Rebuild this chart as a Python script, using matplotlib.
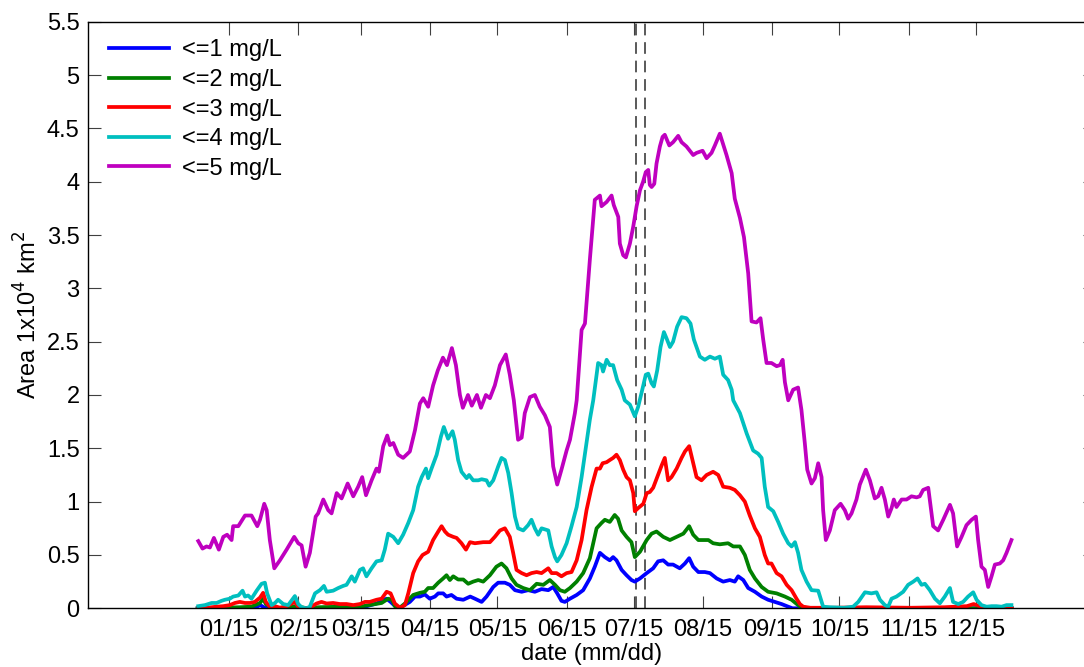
import matplotlib
matplotlib.use("Agg")
import matplotlib.pyplot as plt

# ---------------- data (day of year, area in 1e4 km^2) ----------------
days_5 = [1.3, 3.2, 5, 6.5, 8.3, 10.5, 12.5, 14.2, 16.2, 16.9, 19.2, 22.2, 25.1, 27.7, 28.9, 30.8, 31.9,
          33.3, 35.3, 37.8, 40.8, 44.2, 46, 47.5, 49.3, 51.2, 53.8, 54.9, 57.2, 59.4, 60.9, 63.2, 65.4,
          68.1, 70.6, 72.8, 74.6, 76.3, 78.8, 81, 82.1, 84, 85.8, 87, 88.5, 90.7, 92.9, 95.9, 98.2, 100.4,
          101.9, 104.1, 106.3, 108.4, 110.7, 112.5, 114.7, 116.5, 118.3, 119.6, 121.9, 123.6, 125.9,
          127.7, 129.9, 131.7, 133.9, 136.2, 138.8, 140.6, 142.4, 144.3, 145.9, 147.3, 149.6, 151.8, 154,
          156.3, 158.5, 160, 161.8, 163.7, 166, 167.5, 169.7, 170.5, 172.7, 174.2, 176.4, 178.6, 180.9,
          181.6, 183.9, 186.1, 187.1, 189.1, 189.8, 191.3, 192.5, 194.3, 195.8, 197.3, 198.8, 200.2,
          201.4, 202.5, 203.2, 204, 205.2, 206.2, 207.7, 208.9, 209.9, 211.9, 213.6, 215.9, 217.4, 219.6,
          222.6, 224.1, 226.8, 228.6, 230.8, 232.3, 234.5, 235.7, 237.5, 239.8, 241.2, 243.5, 245.3,
          247.2, 248.7, 250.9, 252.7, 253.9, 255.4, 257.6, 259.9, 261.4, 262.6, 263.6, 265.1, 267.3,
          269.5, 271, 272.5, 273.6, 275.5, 277, 278.5, 280, 280.7, 281.9, 283.7, 285.9, 288.5, 290.4,
          291.9, 293.4, 295.6, 297.1, 299.8, 301.6, 303.8, 305.3, 306.8, 308.3, 309.8, 311.3, 312.3,
          313.5, 315.8, 318, 320.2, 322.5, 323.9, 325.4, 327.7, 329.9, 332.1, 334.4, 337.4, 338.8, 340.6,
          342.6, 344.8, 347.1, 349, 350, 351.5, 353, 354.5, 356, 357.5, 359.7, 361.2, 362.7, 364.9]
area_5 = [0.63, 0.56, 0.58, 0.57, 0.66, 0.55, 0.67, 0.69, 0.64, 0.77, 0.77, 0.87, 0.87, 0.77, 0.83, 0.98, 0.92,
          0.64, 0.375, 0.45, 0.55, 0.67, 0.61, 0.59, 0.39, 0.52, 0.86, 0.89, 1.02, 0.92, 0.89, 1.08, 1.03,
          1.17, 1.05, 1.14, 1.23, 1.06, 1.20, 1.31, 1.28, 1.52, 1.62, 1.53, 1.55, 1.44, 1.41, 1.47, 1.67, 1.92,
          1.97, 1.89, 2.09, 2.23, 2.35, 2.28, 2.44, 2.28, 2.0, 1.88, 2.0, 1.9, 2.0,
          1.88, 2.0, 1.97, 2.09, 2.28, 2.38, 2.19, 1.95, 1.58, 1.60, 1.83, 1.98, 2.0, 1.89,
          1.81, 1.70, 1.33, 1.16, 1.30, 1.48, 1.58, 1.83, 1.95, 2.61, 2.67, 3.27, 3.83, 3.87,
          3.77, 3.81, 3.87, 3.78, 3.67, 3.42, 3.31, 3.29, 3.42, 3.58, 3.77, 3.92, 4.0,
          4.09, 4.11, 3.97, 3.95, 3.98, 4.17, 4.33, 4.42, 4.44, 4.34, 4.37, 4.43, 4.37, 4.33,
          4.25, 4.27, 4.29, 4.22, 4.27, 4.34, 4.45, 4.37, 4.25, 4.08, 3.84, 3.66, 3.48,
          3.14, 2.69, 2.68, 2.72, 2.52, 2.30, 2.30, 2.27, 2.28, 2.33, 2.12, 1.95, 2.05,
          2.07, 1.86, 1.55, 1.30, 1.17, 1.22, 1.36, 1.23, 0.92, 0.64, 0.73, 0.92, 0.98, 0.92,
          0.84, 0.89, 1.02, 1.16, 1.30, 1.20, 1.03, 1.05, 1.13, 1.02, 0.86, 0.94, 1.02,
          0.95, 1.02, 1.02, 1.05, 1.04, 1.05, 1.11, 1.13, 0.77, 0.73, 0.83, 0.97, 0.89, 0.58,
          0.67, 0.78, 0.83, 0.86, 0.64, 0.39, 0.36, 0.20, 0.30, 0.41, 0.42, 0.45, 0.52, 0.64]

days_4 = [1.3, 4.3, 7.3, 9.5, 11.7, 13.2, 15.4, 16.9, 19.2, 21.1, 22.2, 23.6, 25.1, 27.4, 29.6, 31.1, 32.1,
          34.1, 35.6, 37, 39.3, 41.5, 44.5, 46, 47.5, 49.7, 51.2, 53.5, 55.7, 57.5, 58.7, 61.6, 63.9, 66.1,
          67.6, 69.9, 71.3, 73.6, 75, 76.5, 78.8, 81, 83.3, 84.7, 86.2, 88.5, 90.7, 92.9, 95.2, 97.4, 99.6,
          101.2, 103.1, 104.1, 105.6, 107.9, 109.8, 111.1, 113, 115, 116, 117.5, 119, 121.3, 122.4, 124.2,
          126.5, 128, 130.2, 131.4, 133.2, 135.4, 136.9, 138.4, 139.9, 141.4, 142.9, 144.3, 146.6, 148.8,
          150.3, 151.8, 153.3, 154.8, 157.8, 159.3, 160.8, 161.8, 163.7, 166, 168.2, 170.5, 172.7, 174.9,
          176.4, 177.9, 180.1, 181.6, 182.3, 183.9, 185.3, 186.8, 188.6, 190.6, 192, 194.3, 196.5, 198,
          199.5, 201.4, 202.5, 204, 205, 206.5, 208, 209.5, 210.7, 212.2, 213.6, 215.4, 217.4, 219.6,
          221.4, 222.9, 224.1, 225.6, 227.8, 230.1, 232.3, 234.5, 236, 238.2, 239.8, 240.5, 243.5, 246.5,
          249.4, 251.6, 253.2, 254.6, 256.1, 258.4, 260.6, 262.8, 265.1, 266.6, 268.1, 269.5, 271, 273.3,
          275.5, 278.5, 280.7, 283.7, 290, 294.1, 296.4, 299.4, 302.3, 304.6, 306.1, 308.3, 309.8, 311.3,
          313.5, 316.5, 318.7, 321, 322.9, 324.7, 326.2, 328.4, 330.7, 332.9, 335.1, 337.4, 338.8, 341.1,
          343.3, 345.5, 347.8, 349.3, 351.5, 353.8, 356, 358.2, 360.5, 362.7, 364.9]
area_4 = [0.02, 0.03, 0.05, 0.05, 0.07, 0.08, 0.09, 0.11, 0.12, 0.165, 0.11, 0.12, 0.09, 0.165, 0.23, 0.24, 0.14,
          0.03, 0.05, 0.08, 0.04, 0.03, 0.115, 0.04, 0.01, 0.0, 0.015, 0.14, 0.17, 0.21, 0.155, 0.165, 0.19, 0.21,
          0.22, 0.30, 0.25, 0.36, 0.375, 0.30, 0.375, 0.44, 0.45, 0.55, 0.70, 0.67, 0.61, 0.69, 0.80, 0.92, 1.14,
          1.23, 1.31, 1.22, 1.31, 1.44, 1.61, 1.70, 1.59, 1.66, 1.58, 1.39, 1.28, 1.22, 1.25, 1.20,
          1.20, 1.21, 1.20, 1.15, 1.20, 1.33, 1.41, 1.39, 1.27, 1.08, 0.86, 0.75, 0.73, 0.78,
          0.83, 0.75, 0.69, 0.75, 0.73, 0.58, 0.48, 0.44, 0.50, 0.61, 0.77, 0.95, 1.23, 1.55,
          1.77, 1.95, 2.30, 2.28, 2.22, 2.33, 2.28, 2.28, 2.14, 2.05, 1.95, 1.91, 1.80, 1.89,
          2.02, 2.19, 2.20, 2.11, 2.08, 2.23, 2.45, 2.59, 2.53, 2.45, 2.50, 2.64, 2.73, 2.72,
          2.67, 2.52, 2.45, 2.36, 2.33, 2.36, 2.34, 2.36, 2.19, 2.14, 2.05, 1.95, 1.83, 1.64,
          1.48, 1.45, 1.41, 1.14, 0.95, 0.91, 0.81, 0.70, 0.61, 0.58, 0.62, 0.52, 0.36, 0.25,
          0.17, 0.165, 0.015, 0.01, 0.005, 0.015, 0.06, 0.15, 0.14, 0.15, 0.08, 0.03, 0.015, 0.09,
          0.11, 0.155, 0.22, 0.25, 0.28, 0.22, 0.23, 0.17, 0.09, 0.047, 0.11, 0.19, 0.06, 0.04,
          0.06, 0.11, 0.15, 0.08, 0.03, 0.015, 0.02, 0.02, 0.015, 0.03, 0.03]

days_3 = [1.3, 5, 9.5, 12.5, 15.4, 17.7, 19.9, 22.2, 24.4, 26.6, 28.9, 30.3, 31.5, 33.3, 35.6, 37.8, 40.8,
          44.5, 46, 48.2, 51.2, 54.2, 56.4, 58.7, 61.6, 64.6, 67.6, 70.6, 73.6, 75.8, 78, 81, 83.3, 85.5,
          87.3, 89.2, 91.5, 93.7, 95.2, 97.4, 99.6, 101.6, 104.1, 106.3, 108.6, 110.1, 111.6, 113, 115.3,
          116.8, 119, 121, 122.8, 125, 128.7, 131.7, 133.9, 136.2, 138.4, 140.6, 142.1, 143.6, 145.9,
          148.1, 150.3, 152.6, 154.8, 157.8, 159.3, 161.5, 163.7, 166, 168.2, 170.5, 172.7, 174.9, 177.2,
          179.4, 180.9, 182.1, 183.9, 185.3, 186.8, 188.3, 189.8, 191.3, 192.8, 194.3, 195.8, 196.5, 198,
          200.3, 201.8, 203.2, 204.7, 206.9, 208.5, 209.9, 211.4, 212.9, 215.2, 217.4, 218.9, 220.8,
          222.3, 224.1, 226.3, 228.6, 231.5, 233.8, 236, 239, 241.2, 243.5, 245.7, 247.9, 250.2, 252.4,
          254.6, 256.1, 257.6, 259.9, 262.1, 264.4, 266.6, 268.8, 270.3, 271.8, 275, 285, 300, 320, 335,
          345, 348, 352, 358, 365]
area_3 = [0.0, 0.005, 0.015, 0.02, 0.03, 0.05, 0.06, 0.05, 0.05, 0.06, 0.10, 0.145, 0.06, 0.015, 0.02, 0.005, 0.02,
          0.06, 0.015, 0.0, 0.005, 0.045, 0.06, 0.045, 0.05, 0.04, 0.04, 0.03, 0.04, 0.06, 0.06, 0.08, 0.09, 0.155,
          0.14, 0.045, 0.005, 0.03, 0.14, 0.33, 0.44, 0.50, 0.53, 0.64, 0.72, 0.77, 0.72, 0.69, 0.67,
          0.66, 0.61, 0.55, 0.62, 0.61, 0.62, 0.62, 0.67, 0.73, 0.75, 0.67, 0.52, 0.36, 0.33,
          0.31, 0.33, 0.34, 0.33, 0.375, 0.33, 0.33, 0.30, 0.33, 0.34, 0.45, 0.64, 0.92, 1.14,
          1.31, 1.31, 1.36, 1.37, 1.39, 1.41, 1.44, 1.39, 1.30, 1.23, 1.20, 1.08, 0.91, 0.94,
          0.98, 1.08, 1.09, 1.13, 1.25, 1.34, 1.41, 1.20, 1.23, 1.31, 1.41, 1.47, 1.52,
          1.39, 1.23, 1.20, 1.25, 1.28, 1.25, 1.14, 1.13, 1.11, 1.06, 1.00, 0.87, 0.75, 0.67,
          0.50, 0.42, 0.42, 0.33, 0.30, 0.22, 0.17, 0.09, 0.04, 0.015, 0.005, 0.005, 0.01, 0.005, 0.01,
          0.02, 0.04, 0.01, 0.005, 0.0]

days_2 = [1, 10, 20, 25, 28.9, 30.3, 31.5, 34, 40, 45, 50, 55, 65, 75, 83.3, 86.2, 87.9, 89.2, 91.1, 94,
          97.4, 100.4, 102.6, 104.1, 106.3, 108.6, 110.8, 112.3, 113.8, 115.3, 117.5, 119.8, 122, 124.2,
          126.5, 128.7, 131.7, 134.6, 136.9, 139.1, 141.4, 143.6, 146.6, 149.6, 152.6, 155.6, 158.5, 160.8,
          163, 165.2, 167.5, 170.5, 173.4, 176.4, 179.4, 181.6, 183.1, 185.3, 187.5, 189, 190.6, 192.8,
          195, 196.5, 198.8, 201.8, 204, 206.2, 209.2, 212.2, 215.2, 218.2, 220.8, 222.6, 224.9, 227.1,
          229.4, 231.5, 234.5, 238.2, 240.5, 243.5, 245.7, 247.9, 250.2, 253.2, 256.1, 259.9, 263.6,
          266.6, 269.5, 271, 275, 365]
area_2 = [0.0, 0.005, 0.01, 0.015, 0.05, 0.09, 0.04, 0.005, 0.005, 0.02, 0.0, 0.01, 0.015, 0.02, 0.05, 0.09, 0.08,
          0.02, 0.0, 0.05, 0.125, 0.145, 0.155, 0.19, 0.19, 0.24, 0.28, 0.31, 0.265, 0.30, 0.27, 0.27, 0.23, 0.25,
          0.265, 0.25, 0.31, 0.39, 0.42, 0.375, 0.28, 0.22, 0.19, 0.17, 0.23, 0.22, 0.265, 0.22,
          0.17, 0.155, 0.19, 0.25, 0.33, 0.47, 0.75, 0.80, 0.83, 0.81, 0.875, 0.84, 0.73, 0.67,
          0.62, 0.48, 0.53, 0.64, 0.70, 0.72, 0.67, 0.64, 0.67, 0.70, 0.77, 0.69, 0.64, 0.64,
          0.64, 0.61, 0.60, 0.61, 0.58, 0.58, 0.50, 0.36, 0.28, 0.20, 0.155, 0.14, 0.11,
          0.08, 0.03, 0.01, 0.0, 0.0]

days_1 = [1, 20, 27, 29, 31, 40, 60, 75, 81, 85.5, 87.3, 89.6, 91.1, 95.9, 98.2, 100.4, 102.6, 104.8, 107.1,
          108.6, 110.8, 112.3, 114.5, 116.8, 119.8, 122.9, 125, 128, 130.2, 133.2, 135.4, 138.4, 140.6,
          142.9, 145.9, 148.8, 151.8, 154.8, 157.8, 160, 161.8, 163.7, 165.2, 167.5, 170.5, 173.4, 176.4,
          178.6, 180.9, 183.1, 185.3, 186.8, 188.3, 190.6, 192.8, 195, 196.5, 198.8, 201.8, 204.7, 206.9,
          209.2, 211.4, 213.6, 216.6, 218.9, 220.8, 222.6, 224.9, 227.8, 230.1, 233.1, 236, 239, 241.2,
          242.7, 245, 247.2, 250.2, 253.2, 256.1, 259.1, 262.1, 265.1, 267, 365]
area_1 = [0.0, 0.0, 0.01, 0.03, 0.005, 0.0, 0.005, 0.01, 0.045, 0.09, 0.06, 0.015, 0.0, 0.06, 0.11, 0.11, 0.13,
          0.09, 0.11, 0.14, 0.14, 0.11, 0.125, 0.09, 0.08, 0.11, 0.09, 0.06, 0.11, 0.20, 0.24, 0.24, 0.22,
          0.17, 0.155, 0.17, 0.155, 0.18, 0.17, 0.20, 0.14, 0.07, 0.06, 0.09, 0.125, 0.17, 0.28,
          0.39, 0.52, 0.48, 0.45, 0.48, 0.45, 0.36, 0.31, 0.265, 0.25, 0.28, 0.33, 0.375, 0.44,
          0.45, 0.41, 0.41, 0.375, 0.42, 0.47, 0.39, 0.34, 0.34, 0.33, 0.28, 0.25, 0.265, 0.25,
          0.30, 0.265, 0.19, 0.155, 0.11, 0.08, 0.06, 0.04, 0.015, 0.0, 0.0]

labels = ["<=1 mg/L", "<=2 mg/L", "<=3 mg/L", "<=4 mg/L", "<=5 mg/L"]
colors = ["#0000ff", "#008000", "#ff0000", "#00bfbf", "#bf00bf"]
event_days = [197, 201]
tick_days = [15, 46, 74, 105, 135, 166, 196, 227, 258, 288, 319, 349]
tick_labels = ["01/15", "02/15", "03/15", "04/15", "05/15", "06/15",
               "07/15", "08/15", "09/15", "10/15", "11/15", "12/15"]
y_ticks = [0, 0.5, 1, 1.5, 2, 2.5, 3, 3.5, 4, 4.5, 5, 5.5]
y_tick_labels = ["0", "0.5", "1", "1.5", "2", "2.5", "3", "3.5", "4", "4.5", "5", "5.5"]

# ---------------- figure ----------------
plt.rcParams['font.family'] = ['Liberation Sans', 'DejaVu Sans']
fig = plt.figure(figsize=(10.84, 6.67), dpi=100)
W, H = 1084.0, 667.0
ax = fig.add_axes([88 / W, (H - 608.3) / H, (1095 - 88) / W, (608.3 - 21.7) / H])

series = [(days_1, area_1), (days_2, area_2), (days_3, area_3), (days_4, area_4), (days_5, area_5)]
for (d, a), lab, c in zip(series, labels, colors):
    ax.plot(d, a, color=c, lw=2.7, label=lab, solid_joinstyle='round')

for ed in event_days:
    ax.axvline(ed, color='0.35', lw=1.4, ls=(0, (6, 3.5)), zorder=0.5)

x0 = -48
x1 = x0 + (1095 - 88) / 2.2365
ax.set_xlim(x0, x1)
ax.set_ylim(0, 5.5)
ax.set_xticks(tick_days)
ax.set_xticklabels(tick_labels)
ax.set_yticks(y_ticks)
ax.set_yticklabels(y_tick_labels)
ax.tick_params(axis='both', direction='in', length=9, width=0.8, labelsize=17, top=True, right=True,
               color='0.25')
ax.tick_params(axis='x', pad=8)
ax.tick_params(axis='y', pad=6)
for sp in ax.spines.values():
    sp.set_linewidth(1.0)

ax.set_xlabel("date (mm/dd)", fontsize=17, labelpad=1)
ax.set_ylabel("Area 1x10$^4$ km$^2$", fontsize=17, labelpad=4)

leg = ax.legend(loc='upper left', frameon=False, fontsize=17, handlelength=2.55,
                handletextpad=0.55, labelspacing=0.32, borderaxespad=0.5,
                bbox_to_anchor=(0.0, 1.006))

fig.savefig("out.png", dpi=100)
